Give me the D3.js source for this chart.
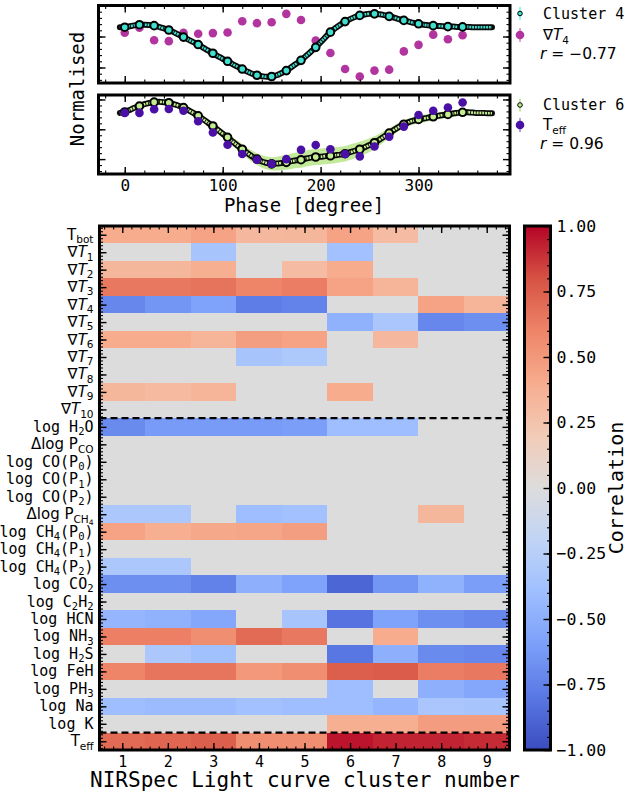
<!DOCTYPE html>
<html>
<head>
<meta charset="utf-8">
<script src="https://cdn.jsdelivr.net/npm/d3@7"></script>
<style>
  html, body { margin: 0; padding: 0; background: #fff; }
  svg { display: block; }
</style>
</head>
<body>
<svg id="fig" width="629" height="798"></svg>
<script>
// ---------------- light-curve data ----------------
const phaseModel = [-5, 0, 5, 10, 15, 20, 25, 30, 35, 40, 45, 50, 55, 60, 65, 70, 75, 80, 85, 90,
  95, 100, 105, 110, 115, 120, 125, 130, 135, 140, 145, 150, 155, 160, 165, 170, 175, 180, 185, 190,
  195, 200, 205, 210, 215, 220, 225, 230, 235, 240, 245, 250, 255, 260, 265, 270, 275, 280, 285, 290,
  295, 300, 305, 310, 315, 320, 325, 330, 335, 340, 345, 350, 355, 360, 365, 370, 375];
const phaseObs = [0, 15, 30, 45, 60, 75, 90, 105, 120, 135, 150, 165, 180, 195, 210, 225, 240,
  255, 270, 285, 300, 315, 330, 345];

// cluster 4 light-curve model (normalised) and its uncertainty
const cluster4Model = [0.30, 0.30, 0.33, 0.36, 0.38, 0.38, 0.37, 0.35, 0.31, 0.26, 0.21, 0.14, 0.06, -0.02,
  -0.10, -0.18, -0.26, -0.36, -0.45, -0.54, -0.63, -0.72, -0.80, -0.89, -0.97, -1.05, -1.13, -1.20, -1.25,
  -1.28, -1.30, -1.29, -1.25, -1.18, -1.10, -0.99, -0.88, -0.77, -0.63, -0.49, -0.35, -0.18, -0.02, 0.14,
  0.27, 0.38, 0.48, 0.56, 0.63, 0.68, 0.71, 0.73, 0.73, 0.72, 0.69, 0.65, 0.61, 0.56, 0.52, 0.48, 0.44,
  0.41, 0.38, 0.36, 0.35, 0.34, 0.33, 0.32, 0.32, 0.31, 0.31, 0.31, 0.30, 0.30, 0.30, 0.30, 0.30];
const cluster4Err = [0.03, 0.03, 0.03, 0.03, 0.03, 0.03, 0.03, 0.03, 0.03, 0.03, 0.03, 0.03, 0.03, 0.03,
  0.03, 0.03, 0.03, 0.04, 0.04, 0.04, 0.04, 0.05, 0.05, 0.05, 0.06, 0.06, 0.07, 0.07, 0.07, 0.07, 0.07,
  0.07, 0.07, 0.06, 0.06, 0.05, 0.05, 0.05, 0.04, 0.04, 0.04, 0.04, 0.03, 0.03, 0.03, 0.03, 0.03, 0.03,
  0.03, 0.03, 0.03, 0.03, 0.03, 0.03, 0.03, 0.03, 0.03, 0.03, 0.03, 0.03, 0.03, 0.03, 0.03, 0.03, 0.03,
  0.03, 0.03, 0.03, 0.03, 0.03, 0.03, 0.03, 0.03, 0.03, 0.03, 0.03, 0.03];
const cluster4Obs = [0.30, 0.38, 0.35, 0.21, -0.02, -0.26, -0.54, -0.80, -1.05, -1.25, -1.29, -1.10,
  -0.77, -0.35, 0.14, 0.48, 0.68, 0.73, 0.65, 0.52, 0.41, 0.35, 0.32, 0.31];
const gradT4Obs = [0.12, 0.28, -0.12, -0.15, 0.12, 0.09, 0.11, 0.13, 0.49, 0.43, 0.46, 0.73, 0.53,
  -0.13, -0.53, -1.05, -1.29, -1.10, -1.07, -0.48, -0.27, 0.06, -0.09, 0.04];

// cluster 6 light-curve model (normalised) and its uncertainty
const cluster6Model = [0.55, 0.58, 0.65, 0.72, 0.78, 0.84, 0.88, 0.91, 0.92, 0.91, 0.89, 0.84, 0.79, 0.73,
  0.64, 0.55, 0.45, 0.34, 0.22, 0.11, -0.02, -0.15, -0.27, -0.41, -0.54, -0.67, -0.79, -0.91, -1.00, -1.08,
  -1.13, -1.16, -1.15, -1.13, -1.11, -1.07, -1.04, -1.02, -0.98, -0.95, -0.93, -0.92, -0.90, -0.89, -0.87,
  -0.85, -0.82, -0.77, -0.72, -0.67, -0.60, -0.53, -0.45, -0.35, -0.24, -0.13, -0.02, 0.08, 0.17, 0.24,
  0.29, 0.33, 0.36, 0.39, 0.42, 0.45, 0.48, 0.50, 0.53, 0.55, 0.57, 0.57, 0.56, 0.55, 0.55, 0.54, 0.54];
const cluster6Err = [0.10, 0.10, 0.09, 0.08, 0.08, 0.07, 0.07, 0.07, 0.07, 0.07, 0.07, 0.08, 0.08, 0.09,
  0.10, 0.10, 0.11, 0.11, 0.12, 0.12, 0.13, 0.13, 0.14, 0.15, 0.16, 0.17, 0.18, 0.19, 0.20, 0.21, 0.22,
  0.22, 0.23, 0.24, 0.25, 0.26, 0.26, 0.27, 0.27, 0.27, 0.27, 0.27, 0.27, 0.27, 0.27, 0.26, 0.26, 0.26,
  0.25, 0.25, 0.24, 0.23, 0.22, 0.20, 0.18, 0.16, 0.15, 0.14, 0.13, 0.13, 0.13, 0.13, 0.13, 0.13, 0.12,
  0.12, 0.12, 0.12, 0.11, 0.11, 0.11, 0.10, 0.10, 0.09, 0.09, 0.09, 0.09];
const cluster6Obs = [0.58, 0.78, 0.91, 0.89, 0.73, 0.45, 0.11, -0.27, -0.67, -1.00, -1.16, -1.11, -1.02,
  -0.93, -0.89, -0.82, -0.67, -0.45, -0.13, 0.17, 0.33, 0.42, 0.50, 0.57];
const teffObs = [0.55, 0.55, 0.67, 0.68, 0.62, 0.27, -0.11, -0.52, -0.83, -1.02, -1.16, -1.00, -0.69,
  -0.53, -0.67, -0.83, -0.91, -0.58, -0.25, 0.09, 0.48, 0.62, 0.73, 0.90];

const phaseTicks = [0, 100, 200, 300];

// ---------------- correlation matrix ----------------
const clusterIds = [1, 2, 3, 4, 5, 6, 7, 8, 9];
const rowLabels = ["T_{bot}", "∇*T*_{1}", "∇*T*_{2}", "∇*T*_{3}", "∇*T*_{4}", "∇*T*_{5}", "∇*T*_{6}",
  "∇*T*_{7}", "∇*T*_{8}", "∇*T*_{9}", "∇*T*_{10}", "log H_{2}O", "Δlog P_{CO}", "log CO(P_{0})",
  "log CO(P_{1})", "log CO(P_{2})", "Δlog P_{CH}__{4}", "log CH_{4}(P_{0})", "log CH_{4}(P_{1})",
  "log CH_{4}(P_{2})", "log CO_{2}", "log C_{2}H_{2}", "log HCN", "log NH_{3}", "log H_{2}S",
  "log FeH", "log PH_{3}", "log Na", "log K", "T_{eff}"];
const corrRows = [
  [0.40, 0.40, 0.45, 0.32, 0.33, 0.45, 0.30, 0, 0],          // Tbot
  [0, 0, -0.35, 0, 0, -0.37, 0, 0, 0],                       // ∇T1
  [0.33, 0.33, 0.38, 0, 0.30, 0.40, 0, 0, 0],                // ∇T2
  [0.65, 0.65, 0.67, 0.60, 0.63, 0.45, 0.35, 0, 0],          // ∇T3
  [-0.72, -0.65, -0.58, -0.77, -0.74, 0, 0, 0.45, 0.35],     // ∇T4
  [0, 0, 0, 0, 0, -0.48, -0.33, -0.72, -0.68],               // ∇T5
  [0.40, 0.40, 0.35, 0.47, 0.45, 0, 0.32, 0, 0],             // ∇T6
  [0, 0, 0, -0.35, -0.31, 0, 0, 0, 0],                       // ∇T7
  [0, 0, 0, 0, 0, 0, 0, 0, 0],                               // ∇T8
  [0.33, 0.31, 0.35, 0, 0, 0.40, 0, 0, 0],                   // ∇T9
  [0, 0, 0, 0, 0, 0, 0, 0, 0],                               // ∇T10
  [-0.70, -0.62, -0.62, -0.62, -0.60, -0.40, -0.40, 0, 0],   // H2O
  [0, 0, 0, 0, 0, 0, 0, 0, 0],                               // Δlog P_CO
  [0, 0, 0, 0, 0, 0, 0, 0, 0],                               // CO(P0)
  [0, 0, 0, 0, 0, 0, 0, 0, 0],                               // CO(P1)
  [0, 0, 0, 0, 0, 0, 0, 0, 0],                               // CO(P2)
  [-0.32, -0.32, 0, -0.40, -0.37, 0, 0, 0.33, 0],            // Δlog P_CH4
  [0.45, 0.38, 0.42, 0.43, 0.47, 0, 0, 0, 0],                // CH4(P0)
  [0, 0, 0, 0, 0, 0, 0, 0, 0],                               // CH4(P1)
  [-0.32, -0.32, 0, 0, 0, 0, 0, 0, 0],                       // CH4(P2)
  [-0.68, -0.68, -0.75, -0.50, -0.58, -0.88, -0.65, -0.48, -0.60], // CO2
  [0, 0, 0, 0, 0, 0, 0, 0, 0],                               // C2H2
  [-0.45, -0.48, -0.55, 0, -0.35, -0.82, -0.58, -0.68, -0.72], // HCN
  [0.62, 0.62, 0.55, 0.70, 0.65, 0, 0.40, 0, 0],             // NH3
  [0, -0.32, -0.38, 0, 0, -0.80, -0.50, -0.70, -0.72],       // H2S
  [0.60, 0.66, 0.66, 0.50, 0.55, 0.75, 0.76, 0.63, 0.65],    // FeH
  [0, 0, 0, 0, 0, -0.40, 0, -0.50, -0.55],                   // PH3
  [-0.40, -0.42, -0.42, -0.37, -0.40, -0.40, -0.45, -0.33, -0.35], // Na
  [0, 0, 0, 0, 0, 0.38, 0.38, 0.48, 0.48],                   // K
  [0.70, 0.72, 0.75, 0.55, 0.55, 0.96, 0.92, 0.92, 0.90]     // Teff
];
const groupBreaks = [10.5, 28.5];   // dashed separators (in row units)
const cbarTicks = [-1, -0.75, -0.5, -0.25, 0, 0.25, 0.5, 0.75, 1];

// coolwarm colour map samples at -1, -0.8, ..., 1
const coolwarm = ["#3b4cc0", "#5977e3", "#7b9ff9", "#9ebeff", "#c0d4f5", "#dddcdc",
  "#f2cbb7", "#f7ac8e", "#ee8468", "#d65244", "#b40426"];

// ---------------- helpers ----------------
const MONO = "'DejaVu Sans Mono', monospace";
const SANS = "'DejaVu Sans', sans-serif";
const svg = d3.select("#fig");
const color = d3.scaleLinear()
  .domain(coolwarm.map((c, i) => -1 + i * 0.2))
  .range(coolwarm)
  .interpolate(d3.interpolateRgb)
  .clamp(true);

// writes a label with *italic*, _{sub} and __{subsub} runs into a text element
function richText(sel, str, fs) {
  const re = /__\{([^}]*)\}|_\{([^}]*)\}|\*([^*]+)\*|([^_*]+)/g;
  let cur = 0, m;
  while ((m = re.exec(str))) {
    let txt, size = fs, off = 0, italic = false;
    if (m[1] !== undefined) { txt = m[1]; size = fs * 0.5; off = fs * 0.40; }
    else if (m[2] !== undefined) { txt = m[2]; size = fs * 0.7; off = fs * 0.22; }
    else if (m[3] !== undefined) { txt = m[3]; italic = true; }
    else { txt = m[4]; }
    sel.append("tspan")
      .attr("dy", (off - cur).toFixed(2))
      .attr("font-size", size)
      .attr("font-style", italic ? "italic" : null)
      .text(txt);
    cur = off;
  }
}

function styleAxis(g, width) {
  g.select(".domain").remove();
  g.selectAll(".tick line").attr("stroke", "#000").attr("stroke-width", width || 1.3);
}

// inward ticks on all four sides of a frame
function frameTicks(g, xs, ys, o) {
  const [x0, x1] = xs.range();
  const [yA, yB] = ys.range();
  const yTop = Math.min(yA, yB), yBot = Math.max(yA, yB);
  const defs = [
    { ax: d3.axisBottom, s: xs, t: `translate(0,${yBot})`, maj: o.xMajor, min: o.xMinor, lab: o.xLabels },
    { ax: d3.axisTop, s: xs, t: `translate(0,${yTop})`, maj: o.xMajor, min: o.xMinor },
    { ax: d3.axisLeft, s: ys, t: `translate(${x0},0)`, maj: o.yMajor, min: o.yMinor },
    { ax: d3.axisRight, s: ys, t: `translate(${x1},0)`, maj: o.yMajor, min: o.yMinor }
  ];
  defs.forEach(d => {
    const gm = g.append("g").attr("transform", d.t)
      .call(d.ax(d.s).tickValues(d.min).tickSize(-3.5).tickFormat(""));
    styleAxis(gm, 1.1);
    const gM = g.append("g").attr("transform", d.t)
      .call(d.ax(d.s).tickValues(d.maj).tickSizeInner(-7).tickSizeOuter(0)
        .tickPadding(6).tickFormat(d.lab ? d.lab : () => ""));
    styleAxis(gM, 1.4);
    if (d.lab) {
      gM.selectAll("text").attr("font-family", MONO).attr("font-size", o.labSize || 15).attr("fill", "#000");
    }
  });
}

// ---------------- light-curve panels ----------------
const px = d3.scaleLinear().domain([-26.8, 393.4]).range([98.5, 510]);
const minorPhase = [-20, 0, 20, 40, 60, 80, 100, 120, 140, 160, 180, 200, 220, 240, 260, 280, 300, 320, 340, 360, 380];

const panels = [
  { top: 5.5, bottom: 83, dom: [-1.5, 1.0], model: cluster4Model, err: cluster4Err, obs: cluster4Obs,
    par: gradT4Obs, fill: "#40e0d0", band: "#7af3e5", bandOp: 0.9, dot: "#b2359f", dotBar: "#d98acb",
    parOnTop: false, clusterLabel: "Cluster 4", parLabel: "∇*T*_{4}", rLabel: "*r* = −0.77",
    legY: [13.5, 35, 53], showLabels: false },
  { top: 95, bottom: 174, dom: [-1.5, 1.15], model: cluster6Model, err: cluster6Err, obs: cluster6Obs,
    par: teffObs, fill: "#c3ee90", band: "#b8e58a", bandOp: 0.85, dot: "#4a10a6", dotBar: "#9d86d6",
    parOnTop: true, clusterLabel: "Cluster 6", parLabel: "T_{eff}", rLabel: "*r* = 0.96",
    legY: [105, 125, 143], showLabels: true }
];

panels.forEach((p, k) => {
  const py = d3.scaleLinear().domain(p.dom).range([p.bottom, p.top]);
  const g = svg.append("g");
  const clipId = "clip" + k;
  svg.append("clipPath").attr("id", clipId).append("rect")
    .attr("x", px.range()[0]).attr("y", p.top)
    .attr("width", px.range()[1] - px.range()[0]).attr("height", p.bottom - p.top);
  const inner = g.append("g").attr("clip-path", `url(#${clipId})`);

  const pts = phaseModel.map((ph, i) => ({ ph, v: p.model[i], e: p.err[i] }));
  const obs = phaseObs.map((ph, i) => ({ ph, v: p.obs[i], q: p.par[i] }));

  // uncertainty band of the model
  inner.append("path").datum(pts)
    .attr("d", d3.area().curve(d3.curveMonotoneX)
      .x(d => px(d.ph)).y0(d => py(d.v - d.e)).y1(d => py(d.v + d.e)))
    .attr("fill", p.band).attr("opacity", p.bandOp);

  const drawPar = () => inner.append("g").selectAll("circle").data(obs).join("circle")
    .attr("cx", d => px(d.ph)).attr("cy", d => py(d.q)).attr("r", 4.3).attr("fill", p.dot);

  if (!p.parOnTop) drawPar();

  // model curve: dark outline with coloured core
  const line = d3.line().curve(d3.curveMonotoneX).x(d => px(d.ph)).y(d => py(d.v));
  inner.append("path").datum(pts).attr("d", line)
    .attr("fill", "none").attr("stroke", "#0a0a0a").attr("stroke-width", 6).attr("stroke-linecap", "round");
  inner.append("path").datum(pts).attr("d", line)
    .attr("fill", "none").attr("stroke", p.fill).attr("stroke-width", 2.6)
    .attr("stroke-dasharray", "1.9 0.9");

  // cluster light curve at the observed phases
  inner.append("g").selectAll("circle").data(obs).join("circle")
    .attr("cx", d => px(d.ph)).attr("cy", d => py(d.v)).attr("r", 3.8)
    .attr("fill", p.fill).attr("stroke", "#000").attr("stroke-width", 2);

  if (p.parOnTop) drawPar();

  // frame
  g.append("rect").attr("x", px.range()[0]).attr("y", p.top)
    .attr("width", px.range()[1] - px.range()[0]).attr("height", p.bottom - p.top)
    .attr("fill", "none").attr("stroke", "#000").attr("stroke-width", 3);

  const yMinor = [];
  for (let v = -15; v <= 12; v++) yMinor.push(v / 5);
  frameTicks(g, px, py, {
    xMajor: phaseTicks, xMinor: minorPhase,
    yMajor: [-1, 0, 1], yMinor: yMinor.filter(v => v >= p.dom[0] && v <= p.dom[1]),
    xLabels: p.showLabels ? d3.format("d") : null, labSize: 16
  });

  // legend
  const lx = 520;
  const lg = g.append("g");
  lg.append("line").attr("x1", lx).attr("x2", lx).attr("y1", p.legY[0] - 6.5).attr("y2", p.legY[0] + 6.5)
    .attr("stroke", p.band).attr("stroke-width", 1.6);
  lg.append("circle").attr("cx", lx).attr("cy", p.legY[0]).attr("r", 2.3)
    .attr("fill", p.fill).attr("stroke", "#000").attr("stroke-width", 1);
  lg.append("text").attr("x", 543).attr("y", p.legY[0] + 5.3)
    .attr("font-family", MONO).attr("font-size", 15).text(p.clusterLabel);
  lg.append("line").attr("x1", lx).attr("x2", lx).attr("y1", p.legY[1] - 7).attr("y2", p.legY[1] + 7)
    .attr("stroke", p.dotBar).attr("stroke-width", 1.6);
  lg.append("circle").attr("cx", lx).attr("cy", p.legY[1]).attr("r", 4.3).attr("fill", p.dot);
  const t1 = lg.append("text").attr("x", 543).attr("y", p.legY[1] + 5.3)
    .attr("font-family", SANS).attr("font-size", 15);
  richText(t1, p.parLabel, 15);
  const t2 = lg.append("text").attr("x", 540).attr("y", p.legY[2] + 5.5)
    .attr("font-family", SANS).attr("font-size", 15.5);
  richText(t2, p.rLabel, 15.5);
});

svg.append("text").attr("transform", "translate(77,89) rotate(-90)")
  .attr("text-anchor", "middle").attr("dominant-baseline", "central")
  .attr("font-family", MONO).attr("font-size", 19).text("Normalised");
svg.append("text").attr("x", 304).attr("y", 212).attr("text-anchor", "middle")
  .attr("font-family", MONO).attr("font-size", 19).text("Phase [degree]");

// ---------------- correlation heat map ----------------
const hx = d3.scaleLinear().domain([0.5, 9.5]).range([99.5, 509.5]);
const hy = d3.scaleLinear().domain([-0.5, 29.5]).range([226, 750]);
const hm = svg.append("g");

const cells = [];
corrRows.forEach((row, r) => row.forEach((v, c) => cells.push({ r, c: clusterIds[c], v })));
hm.append("g").selectAll("rect").data(cells).join("rect")
  .attr("x", d => hx(d.c - 0.5)).attr("y", d => hy(d.r - 0.5))
  .attr("width", d => hx(d.c + 0.5) - hx(d.c - 0.5) + 0.4)
  .attr("height", d => hy(d.r + 0.5) - hy(d.r - 0.5) + 0.4)
  .attr("fill", d => color(d.v))
  .attr("shape-rendering", "crispEdges");

hm.append("g").selectAll("line").data(groupBreaks).join("line")
  .attr("x1", hx.range()[0]).attr("x2", hx.range()[1])
  .attr("y1", d => hy(d)).attr("y2", d => hy(d))
  .attr("stroke", "#000").attr("stroke-width", 2.2).attr("stroke-dasharray", "7 4");

hm.append("rect").attr("x", hx.range()[0]).attr("y", hy.range()[0])
  .attr("width", hx.range()[1] - hx.range()[0]).attr("height", hy.range()[1] - hy.range()[0])
  .attr("fill", "none").attr("stroke", "#000").attr("stroke-width", 3);

const colMinor = [], rowMinor = [];
for (let i = 3; i <= 47; i++) colMinor.push(i / 5);
for (let i = -2; i <= 147; i++) rowMinor.push(i / 5);
frameTicks(hm, hx, hy, {
  xMajor: clusterIds, xMinor: colMinor,
  yMajor: d3.range(rowLabels.length), yMinor: rowMinor,
  xLabels: d3.format("d"), labSize: 15
});

hm.append("g").selectAll("text").data(rowLabels).join("text")
  .attr("x", hx.range()[0] - 6).attr("y", (d, i) => hy(i) + 5)
  .attr("text-anchor", "end")
  .attr("font-family", d => d.startsWith("log") ? MONO : SANS)
  .attr("font-size", 15)
  .each(function (d) { richText(d3.select(this), d, 15); });

svg.append("text").attr("x", 305).attr("y", 787).attr("text-anchor", "middle")
  .attr("font-family", MONO).attr("font-size", 21).text("NIRSpec Light curve cluster number");

// ---------------- colour bar ----------------
const cbX0 = 524.5, cbX1 = 550.5;
const cy = d3.scaleLinear().domain([-1, 1]).range([750, 226]);
const grad = svg.append("defs").append("linearGradient").attr("id", "cw")
  .attr("x1", 0).attr("x2", 0).attr("y1", 1).attr("y2", 0);
coolwarm.forEach((c, i) => grad.append("stop").attr("offset", i / (coolwarm.length - 1)).attr("stop-color", c));
svg.append("rect").attr("x", cbX0).attr("y", cy(1)).attr("width", cbX1 - cbX0).attr("height", cy(-1) - cy(1))
  .attr("fill", "url(#cw)");
svg.append("rect").attr("x", cbX0).attr("y", cy(1)).attr("width", cbX1 - cbX0).attr("height", cy(-1) - cy(1))
  .attr("fill", "none").attr("stroke", "#000").attr("stroke-width", 3);

const cbMinor = [];
for (let i = -20; i <= 20; i++) cbMinor.push(i / 20);
const cbm = svg.append("g").attr("transform", `translate(${cbX1},0)`)
  .call(d3.axisRight(cy).tickValues(cbMinor).tickSize(-3.5).tickFormat(""));
styleAxis(cbm, 1.1);
const cbM = svg.append("g").attr("transform", `translate(${cbX1},0)`)
  .call(d3.axisRight(cy).tickValues(cbarTicks).tickSizeInner(-7).tickSizeOuter(0)
    .tickPadding(6).tickFormat(d3.format(".2f")));
styleAxis(cbM, 1.4);
cbM.selectAll("text").attr("font-family", MONO).attr("font-size", 16.5).attr("fill", "#000");

svg.append("text").attr("transform", `translate(616,${cy(0)}) rotate(-90)`)
  .attr("text-anchor", "middle").attr("dominant-baseline", "central")
  .attr("font-family", MONO).attr("font-size", 20).text("Correlation");
</script>
</body>
</html>
